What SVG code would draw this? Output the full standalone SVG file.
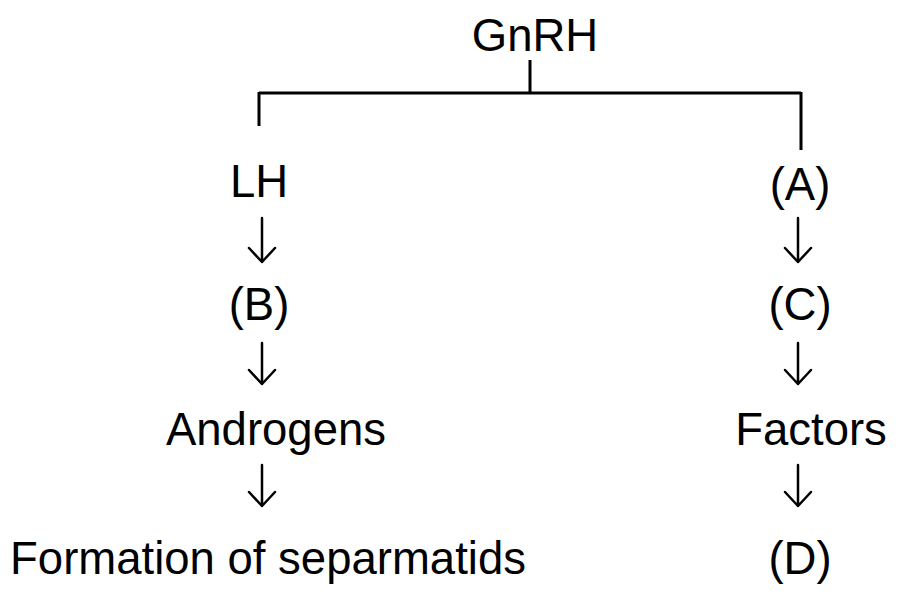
<svg xmlns="http://www.w3.org/2000/svg" width="900" height="596" viewBox="0 0 900 596">
<style>
text{font-family:"Liberation Sans",Arial,sans-serif;font-size:45.5px;fill:#000;text-anchor:middle}
.c{stroke:#000;stroke-width:3;fill:none}
.a{stroke:#000;stroke-width:2.5;fill:none;stroke-linecap:round;stroke-linejoin:round}
</style>
<rect width="900" height="596" fill="#fff"/>
<g id="connectors">
<path class="c" d="M530 60V93M259 93H801M259 92V126M801 92V150"/>
<path class="a" d="M262 218V262M249 248L262 262L275 248"/>
<path class="a" d="M262 343V384M249 370L262 384L275 370"/>
<path class="a" d="M262 465V506M249 492L262 506L275 492"/>
<path class="a" d="M798 218V262M785 248L798 262L811 248"/>
<path class="a" d="M798 343V384M785 370L798 384L811 370"/>
<path class="a" d="M798 465V506M785 492L798 506L811 492"/>
</g>
<g id="gnrh"><text x="535" y="51">GnRH</text></g>
<g id="lh"><text x="259" y="197">LH</text></g>
<g id="a"><text x="800" y="200">(A)</text></g>
<g id="b"><text x="259" y="320">(B)</text></g>
<g id="c"><text x="800" y="320">(C)</text></g>
<g id="androgens"><text x="276" y="445">Androgens</text></g>
<g id="factors"><text x="811" y="445">Factors</text></g>
<g id="formation"><text x="268" y="574">Formation of separmatids</text></g>
<g id="d"><text x="800" y="574">(D)</text></g>
</svg>
